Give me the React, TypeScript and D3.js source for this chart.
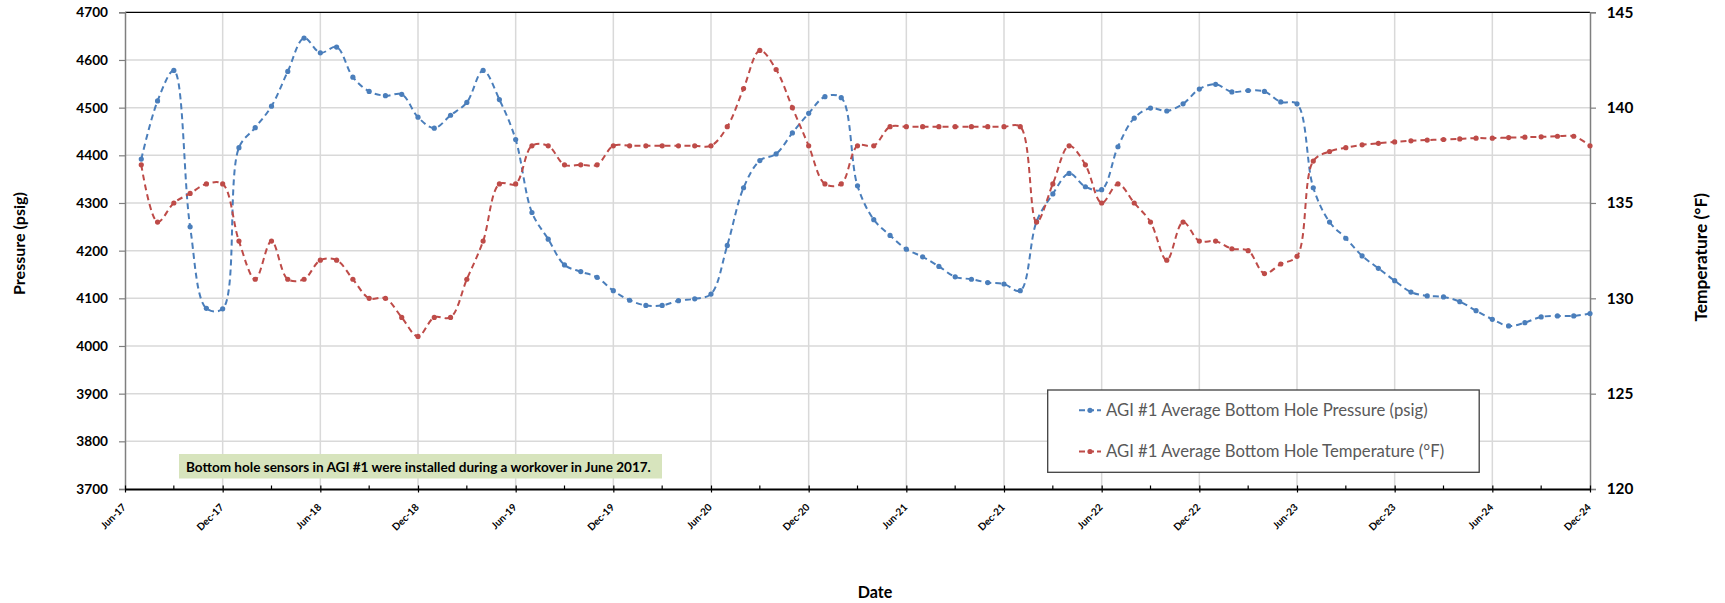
import React, { useEffect, useRef } from "react";
import * as d3 from "d3";

const months = [
  "2017-07", "2017-08", "2017-09", "2017-10", "2017-11", "2017-12",
  "2018-01", "2018-02", "2018-03", "2018-04", "2018-05", "2018-06", "2018-07", "2018-08", "2018-09", "2018-10", "2018-11", "2018-12",
  "2019-01", "2019-02", "2019-03", "2019-04", "2019-05", "2019-06", "2019-07", "2019-08", "2019-09", "2019-10", "2019-11", "2019-12",
  "2020-01", "2020-02", "2020-03", "2020-04", "2020-05", "2020-06", "2020-07", "2020-08", "2020-09", "2020-10", "2020-11", "2020-12",
  "2021-01", "2021-02", "2021-03", "2021-04", "2021-05", "2021-06", "2021-07", "2021-08", "2021-09", "2021-10", "2021-11", "2021-12",
  "2022-01", "2022-02", "2022-03", "2022-04", "2022-05", "2022-06", "2022-07", "2022-08", "2022-09", "2022-10", "2022-11", "2022-12",
  "2023-01", "2023-02", "2023-03", "2023-04", "2023-05", "2023-06", "2023-07", "2023-08", "2023-09", "2023-10", "2023-11", "2023-12",
  "2024-01", "2024-02", "2024-03", "2024-04", "2024-05", "2024-06", "2024-07", "2024-08", "2024-09", "2024-10", "2024-11", "2024-12",
];

const pressure = [
  4392, 4514, 4578, 4250, 4079, 4078,
  4416, 4458, 4503, 4576, 4646, 4615, 4627, 4564, 4534, 4525, 4528, 4480,
  4457, 4484, 4511, 4578, 4517, 4433, 4280, 4224, 4170, 4156, 4144, 4116,
  4096, 4085, 4085, 4095, 4099, 4109, 4211, 4332, 4389, 4403, 4447, 4488,
  4523, 4521, 4336, 4265, 4232, 4203, 4187, 4167, 4145, 4140, 4133, 4130,
  4116, 4261, 4319, 4362, 4334, 4328, 4418, 4478, 4499, 4493, 4508, 4539,
  4549, 4533, 4536, 4534, 4512, 4508, 4332, 4260, 4226, 4189, 4163, 4137,
  4113, 4105, 4103, 4093, 4074, 4056, 4042, 4049, 4061, 4063, 4063, 4068,
];

const temperature = [
  137.0, 134.0, 135.0, 135.5, 136.0, 136.0,
  133.0, 131.0, 133.0, 131.0, 131.0, 132.0, 132.0, 131.0, 130.0, 130.0, 129.0, 128.0,
  129.0, 129.0, 131.0, 133.0, 136.0, 136.0, 138.0, 138.0, 137.0, 137.0, 137.0, 138.0,
  138.0, 138.0, 138.0, 138.0, 138.0, 138.0, 139.0, 141.0, 143.0, 142.0, 140.0, 138.0,
  136.0, 136.0, 138.0, 138.0, 139.0, 139.0, 139.0, 139.0, 139.0, 139.0, 139.0, 139.0,
  139.0, 134.0, 136.0, 138.0, 137.0, 135.0, 136.0, 135.0, 134.0, 132.0, 134.0, 133.0,
  133.0, 132.6, 132.5, 131.3, 131.8, 132.2, 137.2, 137.7, 137.9, 138.05, 138.13, 138.2,
  138.26, 138.3, 138.33, 138.36, 138.4, 138.4, 138.43, 138.45, 138.47, 138.5, 138.5, 138.0,
];

const xTickLabels = [
  "Jun-17", "Dec-17", "Jun-18", "Dec-18", "Jun-19", "Dec-19", "Jun-20", "Dec-20",
  "Jun-21", "Dec-21", "Jun-22", "Dec-22", "Jun-23", "Dec-23", "Jun-24", "Dec-24",
];
const pressureTicks = [3700, 3800, 3900, 4000, 4100, 4200, 4300, 4400, 4500, 4600, 4700];
const temperatureTicks = [120, 125, 130, 135, 140, 145];

const seriesNames = [
  "AGI #1 Average Bottom Hole Pressure (psig)",
  "AGI #1 Average Bottom Hole Temperature (°F)",
];
const note = "Bottom hole sensors in AGI #1 were installed during a workover in June 2017.";

const BLUE = "#4A7EBB";
const RED = "#BE4B48";
const FONT = "Lato, 'Open Sans', sans-serif";

// month index relative to Jun-17
const monthIndex = (s: string) => {
  const [y, m] = s.split("-").map(Number);
  return (y - 2017) * 12 + (m - 6);
};

export default function App() {
  const ref = useRef<SVGSVGElement>(null);

  useEffect(() => {
    const svg = d3.select(ref.current);
    svg.selectAll("*").remove();

    // font size that makes `txt` span `target` px
    const sizeFor = (txt: string, weight: string, target: number) => {
      const t = svg.append("text").attr("font-family", FONT).attr("font-weight", weight)
        .attr("font-size", 20).text(txt);
      const w = (t.node() as SVGTextElement).getComputedTextLength();
      t.remove();
      return w > 0 ? (20 * target) / w : 14;
    };
    const fsLeft = sizeFor("4700", "bold", 31.7);
    const fsRight = sizeFor("135", "bold", 26.7);
    const fsX = sizeFor("Dec-17", "bold", 33);
    const fsLegend = sizeFor(seriesNames[0], "normal", 322);
    const fsNote = sizeFor(note, "bold", 465);
    const fsPTitle = sizeFor("Pressure (psig)", "bold", 103);
    const fsTTitle = sizeFor("Temperature (°F)", "bold", 128.7);
    const fsDate = sizeFor("Date", "bold", 34.6);

    const left = 125, right = 1590, top = 12.3, bottom = 489;
    const x = d3.scaleLinear().domain([0, 90]).range([left, right]);
    const yP = d3.scaleLinear().domain([3700, 4700]).range([bottom, top]);
    const yT = d3.scaleLinear().domain([120, 145]).range([bottom, top]);

    const majorTicks = xTickLabels.map((_, i) => i * 6);
    const minorTicks = xTickLabels.slice(1).map((_, i) => i * 6 + 3);

    // gridlines
    const grid = svg.append("g");
    grid.selectAll("line.h")
      .data(pressureTicks.filter((t) => t > 3700 && t < 4700))
      .join("line")
      .attr("x1", left).attr("x2", right)
      .attr("y1", (d) => yP(d)).attr("y2", (d) => yP(d))
      .attr("stroke", "#D9D9D9").attr("stroke-width", 1.5);
    grid.selectAll("line.v")
      .data(majorTicks.filter((t) => t > 0 && t < 90))
      .join("line")
      .attr("x1", (d) => x(d)).attr("x2", (d) => x(d))
      .attr("y1", top).attr("y2", bottom)
      .attr("stroke", "#D9D9D9").attr("stroke-width", 1.5);

    // top border
    svg.append("line")
      .attr("x1", left).attr("x2", right).attr("y1", top).attr("y2", top)
      .attr("stroke", "#000").attr("stroke-width", 1.3);

    // left axis
    const gl = svg.append("g").attr("transform", `translate(${left},0)`)
      .call(d3.axisLeft(yP).tickValues(pressureTicks).tickSize(6).tickPadding(11).tickFormat(d3.format("d")));
    gl.select(".domain").attr("stroke", "#7F7F7F").attr("stroke-width", 1.5);
    gl.selectAll(".tick line").attr("stroke", "#7F7F7F").attr("stroke-width", 1.2);
    gl.selectAll(".tick text").attr("font-family", FONT).attr("font-weight", "bold")
      .attr("font-size", fsLeft).attr("fill", "#000");

    // right axis
    const gr = svg.append("g").attr("transform", `translate(${right},0)`)
      .call(d3.axisRight(yT).tickValues(temperatureTicks).tickSize(6).tickPadding(10.7).tickFormat(d3.format("d")));
    gr.select(".domain").attr("stroke", "#7F7F7F").attr("stroke-width", 1.5);
    gr.selectAll(".tick line").attr("stroke", "#7F7F7F").attr("stroke-width", 1.2);
    gr.selectAll(".tick text").attr("font-family", FONT).attr("font-weight", "bold")
      .attr("font-size", fsRight).attr("fill", "#000");

    // bottom axis
    const gb = svg.append("g").attr("transform", `translate(0,${bottom})`)
      .call(d3.axisBottom(x).tickValues(majorTicks).tickSize(0).tickFormat(() => ""));
    gb.select(".domain").attr("stroke", "#000").attr("stroke-width", 2);
    gb.selectAll(".tick line").attr("stroke", "#000").attr("stroke-width", 1.2)
      .attr("y1", -3.5).attr("y2", 3.5);
    gb.selectAll("line.minor").data(minorTicks).join("line").attr("class", "minor")
      .attr("x1", (d) => x(d)).attr("x2", (d) => x(d)).attr("y1", -3.5).attr("y2", 0)
      .attr("stroke", "#000").attr("stroke-width", 1.2);
    svg.append("g").selectAll("text").data(majorTicks).join("text")
      .attr("transform", (d) => `translate(${x(d) + 1.7},${bottom + 19}) rotate(-45)`)
      .attr("text-anchor", "end")
      .attr("font-family", FONT).attr("font-weight", "bold").attr("font-size", fsX)
      .attr("fill", "#000")
      .text((_, i) => xTickLabels[i]);

    // series
    const idx = months.map(monthIndex);
    const mkLine = (ys: d3.ScaleLinear<number, number>) =>
      d3.line<number>().x((_, i) => x(idx[i])).y((d) => ys(d)).curve(d3.curveCatmullRom.alpha(0.5));

    const series = [
      { values: pressure, scale: yP, color: BLUE },
      { values: temperature, scale: yT, color: RED },
    ];
    series.forEach((s) => {
      const g = svg.append("g");
      g.append("path").attr("d", mkLine(s.scale)(s.values) as string)
        .attr("fill", "none").attr("stroke", s.color).attr("stroke-width", 2)
        .attr("stroke-dasharray", "6,4");
      g.selectAll("circle").data(s.values).join("circle")
        .attr("cx", (_, i) => x(idx[i])).attr("cy", (d) => s.scale(d)).attr("r", 2.6)
        .attr("fill", s.color);
    });

    // annotation box
    svg.append("rect").attr("x", 179).attr("y", 454).attr("width", 483).attr("height", 24.5)
      .attr("fill", "#D7E4BD");
    svg.append("text").attr("x", 186).attr("y", 471.5)
      .attr("font-family", FONT).attr("font-weight", "bold").attr("font-size", fsNote)
      .attr("fill", "#000").text(note);

    // legend
    const lg = svg.append("g");
    lg.append("rect").attr("x", 1047.7).attr("y", 390).attr("width", 431.5).attr("height", 82.3)
      .attr("fill", "#fff").attr("stroke", "#404040").attr("stroke-width", 1.3);
    const legendY = [410.3, 451.5];
    series.forEach((s, i) => {
      lg.append("line").attr("x1", 1079).attr("x2", 1101).attr("y1", legendY[i]).attr("y2", legendY[i])
        .attr("stroke", s.color).attr("stroke-width", 2).attr("stroke-dasharray", "6,3");
      lg.append("circle").attr("cx", 1090).attr("cy", legendY[i]).attr("r", 2.6).attr("fill", s.color);
      lg.append("text").attr("x", 1106).attr("y", legendY[i] + 5.4)
        .attr("font-family", FONT).attr("font-size", fsLegend).attr("fill", "#595959")
        .text(seriesNames[i]);
    });

    // axis titles
    svg.append("text")
      .attr("transform", `translate(25,243.5) rotate(-90)`)
      .attr("text-anchor", "middle")
      .attr("font-family", FONT).attr("font-weight", "bold").attr("font-size", fsPTitle)
      .attr("fill", "#000").text("Pressure (psig)");
    svg.append("text")
      .attr("transform", `translate(1706.7,257.3) rotate(-90)`)
      .attr("text-anchor", "middle")
      .attr("font-family", FONT).attr("font-weight", "bold").attr("font-size", fsTTitle)
      .attr("fill", "#000").text("Temperature (°F)");
    svg.append("text").attr("x", 875).attr("y", 597.5)
      .attr("text-anchor", "middle")
      .attr("font-family", FONT).attr("font-weight", "bold").attr("font-size", fsDate)
      .attr("fill", "#000").text("Date");
  }, []);

  return (
    <svg
      ref={ref}
      width={1725}
      height={603}
      style={{ position: "absolute", left: 0, top: 0, display: "block", background: "#fff" }}
    />
  );
}
